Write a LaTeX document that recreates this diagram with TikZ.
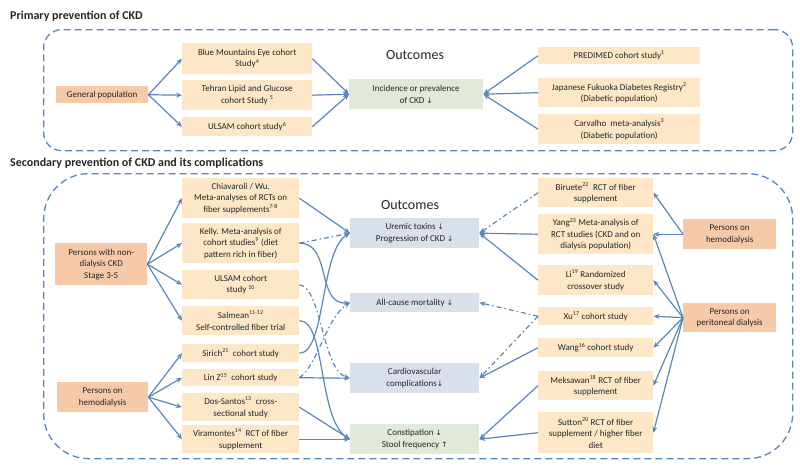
\documentclass[tikz,border=0pt]{standalone}
\usepackage{fontspec}
\setmainfont{Carlito}
\newfontfamily\arrowfont{DejaVu Sans}
\usetikzlibrary{arrows.meta}
\definecolor{lineblue}{HTML}{5A86B9}
\definecolor{popfill}{HTML}{F6C9A8}
\definecolor{studyfill}{HTML}{FDE7C6}
\definecolor{outblue}{HTML}{DADFEC}
\definecolor{outgreen}{HTML}{E1E9DA}
\definecolor{txt}{HTML}{262626}
\newcommand\darr{{\arrowfont\fontsize{7.5}{7.5}\selectfont ↓}}
\newcommand\uarr{{\arrowfont\fontsize{7.5}{7.5}\selectfont ↑}}
\tikzset{
  box/.style={anchor=north west, inner sep=1pt, align=center, text=txt,
    font=\fontsize{9}{11.5}\selectfont},
  pop/.style={box, fill=popfill},
  study/.style={box, fill=studyfill},
  outb/.style={box, fill=outblue},
  outg/.style={box, fill=outgreen},
  arr/.style={draw=lineblue, line width=1.2pt, -{Stealth[length=6pt,width=5pt]}},
  dd/.style={arr, dash pattern=on 5pt off 3pt on 1.5pt off 3pt},
  frame/.style={anchor=north west, draw=lineblue, line width=1.3pt,
    dash pattern=on 7pt off 4pt, inner sep=0pt},
  titletext/.style={anchor=base west, font=\fontsize{12}{14}\selectfont\bfseries, text=txt, inner sep=0pt},
  outtitle/.style={font=\fontsize{14}{16}\selectfont, text=txt, inner sep=0pt},
}
\begin{document}
\begin{tikzpicture}[x=1pt, y=-1pt]
\useasboundingbox (0,0) rectangle (800,466);
% ---------- primary ----------
\node[titletext] (t1) at (10,19) {Primary prevention of CKD};
\node[frame, rounded corners=18pt, minimum width=749pt, minimum height=121pt] (f1) at (43,29) {};
\node[outtitle] (o1) at (415,55) {Outcomes};
\node[pop, minimum width=92pt, minimum height=17pt] (gen) at (56,86) {General population};
\node[study, minimum width=130pt, minimum height=31pt] (bme) at (182,43) {Blue Mountains Eye cohort\\Study\textsuperscript{4}};
\node[study, minimum width=130pt, minimum height=30pt] (teh) at (182,80) {Tehran Lipid and Glucose\\cohort Study \textsuperscript{5}};
\node[study, minimum width=130pt, minimum height=19pt] (uls1) at (182,117) {ULSAM cohort study\textsuperscript{6}};
\node[outg, minimum width=134pt, minimum height=30pt] (inc) at (349,79) {Incidence or prevalence\\of CKD \darr};
\node[study, minimum width=162pt, minimum height=17pt] (pred) at (538,47) {PREDIMED cohort study\textsuperscript{1}};
\node[study, minimum width=162pt, minimum height=29pt] (jfdr) at (538,78) {Japanese Fukuoka Diabetes Registry\textsuperscript{2}\\(Diabetic population)};
\node[study, minimum width=162pt, minimum height=30pt] (carv) at (538,114) {Carvalho\ \ meta-analysis\textsuperscript{3}\\(Diabetic population)};
\draw[arr] (gen.east) -- (bme.west);
\draw[arr] (gen.east) -- (teh.west);
\draw[arr] (gen.east) -- (uls1.west);
\draw[arr] (bme.east) -- (inc.west);
\draw[arr] (teh.east) -- (inc.west);
\draw[arr] (uls1.east) -- (inc.west);
\draw[arr] (pred.west) -- (inc.east);
\draw[arr] (jfdr.west) -- (inc.east);
\draw[arr] (carv.west) -- (inc.east);
% ---------- secondary ----------
\node[titletext] (t2) at (10,166) {Secondary prevention of CKD and its complications};
\node[frame, rounded corners=45pt, minimum width=749pt, minimum height=285pt] (f2) at (43,173) {};
\node[outtitle] (o2) at (410,205) {Outcomes};
\node[pop, minimum width=92pt, minimum height=42pt] (ndckd) at (55,243) {Persons with non-\\dialysis CKD\\Stage 3-5};
\node[pop, minimum width=91pt, minimum height=30pt] (hd1) at (57,382) {Persons on\\hemodialysis};
\node[study, minimum width=117pt, minimum height=40pt] (chia) at (182,178) {Chiavaroli / Wu.\\Meta-analyses of RCTs on\\fiber supplements\textsuperscript{7-8}};
\node[study, minimum width=117pt, minimum height=40pt] (kelly) at (182,223) {Kelly. Meta-analysis of\\cohort studies\textsuperscript{9} (diet\\pattern rich in fiber)};
\node[study, minimum width=117pt, minimum height=29pt] (uls2) at (182,270) {ULSAM cohort\\study \textsuperscript{10}};
\node[study, minimum width=117pt, minimum height=29pt] (salm) at (182,306) {Salmean\textsuperscript{11-12}\\Self-controlled fiber trial};
\node[study, minimum width=117pt, minimum height=18pt] (sir) at (182,344) {Sirich\textsuperscript{21}\ \ cohort study};
\node[study, minimum width=117pt, minimum height=17pt] (linz) at (182,369) {Lin Z\textsuperscript{15}\ \ cohort study};
\node[study, minimum width=117pt, minimum height=28pt] (dos) at (182,393) {Dos-Santos\textsuperscript{13}\ \ cross-\\sectional study};
\node[study, minimum width=117pt, minimum height=28pt] (vira) at (182,425) {Viramontes\textsuperscript{14}\ \ RCT of fiber\\supplement};
\node[outb, minimum width=129pt, minimum height=30pt] (ure) at (350,218) {Uremic toxins \darr\\Progression of CKD \darr};
\node[outb, minimum width=129pt, minimum height=19pt] (acm) at (350,293) {All-cause mortality \darr};
\node[outb, minimum width=129pt, minimum height=30pt] (cv) at (350,363) {Cardiovascular\\complications\darr};
\node[outg, minimum width=129pt, minimum height=30pt] (con) at (350,424) {Constipation \darr\\Stool frequency \uarr};
\node[study, minimum width=115pt, minimum height=29pt] (bir) at (538,178) {Biruete\textsuperscript{22}\ \ RCT of fiber\\supplement};
\node[study, minimum width=115pt, minimum height=40pt] (yang) at (538,214) {Yang\textsuperscript{23} Meta-analysis of\\RCT studies (CKD and on\\dialysis population)};
\node[study, minimum width=115pt, minimum height=30pt] (li) at (538,265) {Li\textsuperscript{19} Randomized\\crossover study};
\node[study, minimum width=115pt, minimum height=18pt] (xu) at (538,307) {Xu\textsuperscript{17} cohort study};
\node[study, minimum width=115pt, minimum height=19pt] (wang) at (538,338) {Wang\textsuperscript{16} cohort study};
\node[study, minimum width=115pt, minimum height=29pt] (mek) at (538,371) {Meksawan\textsuperscript{18} RCT of fiber\\supplement};
\node[study, minimum width=115pt, minimum height=41pt] (sut) at (538,412) {Sutton\textsuperscript{20} RCT of fiber\\supplement / higher fiber\\diet};
\node[pop, minimum width=93pt, minimum height=30pt] (hd2) at (683,219) {Persons on\\hemodialysis};
\node[pop, minimum width=93pt, minimum height=29pt] (pd) at (683,303) {Persons on\\peritoneal dialysis};
% left populations
\foreach \s in {chia,kelly,uls2,salm} \draw[arr] (ndckd.east) -- (\s.west);
\foreach \s in {sir,linz,dos,vira} \draw[arr] (hd1.east) -- (\s.west);
% middle links
\draw[arr] (chia.east) -- (ure.west);
\draw[dd] (kelly.east) -- (ure.west);
\draw[arr] (kelly.east) .. controls (332,243) and (316,305) .. (acm.west);
\draw[arr] (sir.east) .. controls (326,353) and (320,250) .. (ure.west);
\draw[arr] (salm.east) .. controls (326,320) and (318,420) .. (con.west);
\draw[dd] (uls2.east) .. controls (322,288) and (322,370) .. (cv.west);
\draw[dd] (linz.east) .. controls (318,365) and (326,318) .. (acm.west);
\draw[arr] (linz.east) -- (cv.west);
\draw[arr] (dos.east) -- (con.west);
\draw[arr] (vira.east) -- (con.west);
% right links
\draw[dd] (bir.west) -- (ure.east);
\draw[arr] (yang.west) -- (ure.east);
\draw[arr] (li.west) -- (ure.east);
\draw[dd] (xu.west) -- (acm.east);
\draw[dd] (xu.west) -- (cv.east);
\draw[arr] (wang.west) -- (cv.east);
\draw[arr] (mek.west) -- (con.east);
\draw[arr] (sut.west) -- (con.east);
% right populations
\draw[arr] (hd2.west) -- (bir.east);
\draw[arr] (hd2.west) -- (yang.east);
\foreach \s in {yang,li,xu,wang,mek,sut} \draw[arr] (pd.west) -- (\s.east);
\end{tikzpicture}
\end{document}
